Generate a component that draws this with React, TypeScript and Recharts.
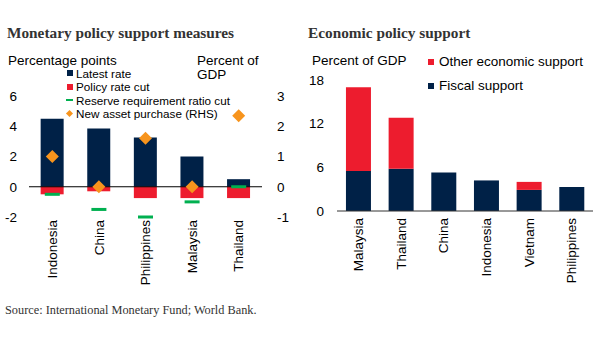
import React from "react";
import {
  ComposedChart,
  BarChart,
  Bar,
  Scatter,
  XAxis,
  YAxis,
  ReferenceLine,
} from "recharts";

// Monetary policy (left panel)
const monetaryCountries = ["Indonesia", "China", "Philippines", "Malaysia", "Thailand"];
const latestRate = [4.5, 3.85, 3.25, 2.0, 0.5];
const policyRateCut = [-0.5, -0.3, -0.75, -0.75, -0.75];
const rrrCut = [-0.5, -1.5, -2.0, -1.0, 0];
const assetPurchase = [1.0, 0, 1.6, 0, 2.35];
const leftTicks = [-2, 0, 2, 4, 6];
const rightTicks = [-1, 0, 1, 2, 3];

// Economic policy (right panel)
const economicCountries = ["Malaysia", "Thailand", "China", "Indonesia", "Vietnam", "Philippines"];
const fiscalSupport = [5.5, 5.8, 5.3, 4.2, 2.9, 3.3];
const otherSupport = [11.5, 7.0, 0, 0, 1.1, 0];
const econTicks = [0, 6, 12, 18];

const NAVY = "#002147";
const RED = "#ed1c2e";
const GREEN = "#00b050";
const ORANGE = "#f7941d";
const SANS = "'Liberation Sans', Arial, sans-serif";
const SERIF = "'Liberation Serif', 'Times New Roman', serif";

const monetaryData = monetaryCountries.map((name, i) => ({
  name,
  latest: latestRate[i],
  cut: policyRateCut[i],
  rrr: rrrCut[i],
  asset: assetPurchase[i],
}));

const economicData = economicCountries.map((name, i) => ({
  name,
  fiscal: fiscalSupport[i],
  other: otherSupport[i],
}));

function RotatedTick({ x, y, payload }: any) {
  return (
    <text
      x={x}
      y={y}
      transform={`rotate(-90, ${x}, ${y})`}
      textAnchor="end"
      dy="0.35em"
      fill="#000"
      fontSize={13.5}
      fontFamily={SANS}
    >
      {payload.value}
    </text>
  );
}

function Dash({ cx, cy }: any) {
  return <rect x={cx - 7.5} y={cy - 1.5} width={15} height={3} fill={GREEN} />;
}

function Diamond({ cx, cy }: any) {
  const r = 6.5;
  return (
    <polygon
      points={`${cx},${cy - r} ${cx + r},${cy} ${cx},${cy + r} ${cx - r},${cy}`}
      fill={ORANGE}
    />
  );
}

const abs = (left: number, top: number, extra: React.CSSProperties = {}): React.CSSProperties => ({
  position: "absolute",
  left,
  top,
  whiteSpace: "nowrap",
  ...extra,
});

const tickStyle = { fontSize: 13.5, fill: "#000", fontFamily: SANS };

export default function App() {
  const label: React.CSSProperties = { fontFamily: SANS, fontSize: 13.5, lineHeight: "14px", color: "#000" };
  const legend: React.CSSProperties = { fontFamily: SANS, fontSize: 11.7, lineHeight: "13px", color: "#000" };
  const title: React.CSSProperties = { fontFamily: SERIF, fontSize: 15.3, fontWeight: "bold", lineHeight: "16px", color: "#333" };

  return (
    <div style={{ position: "absolute", left: 0, top: 0, width: 600, height: 337, background: "#fff", overflow: "hidden" }}>
      {/* Left panel */}
      <div style={abs(7, 25, title)}>Monetary policy support measures</div>
      <div style={abs(8, 54, label)}>Percentage points</div>
      <div style={abs(197, 54, label)}>Percent of</div>
      <div style={abs(197, 68, label)}>GDP</div>

      <div style={{ position: "absolute", left: 0, top: 0 }}>
        <ComposedChart
          width={300}
          height={337}
          data={monetaryData}
          stackOffset="sign"
          barCategoryGap="25%"
          margin={{ top: 96, right: 0, bottom: 0, left: 0 }}
        >
          <XAxis
            dataKey="name"
            xAxisId="x"
            height={120}
            axisLine={false}
            tickLine={false}
            tickSize={0}
            tickMargin={3}
            interval={0}
            tick={<RotatedTick />}
          />
          <YAxis
            yAxisId="left"
            orientation="left"
            width={29}
            domain={[-2, 6]}
            ticks={leftTicks}
            axisLine={false}
            tickLine={false}
            tickSize={0}
            tickMargin={12}
            tick={tickStyle}
          />
          <YAxis
            yAxisId="right"
            orientation="right"
            width={38}
            domain={[-1, 3]}
            ticks={rightTicks}
            axisLine={false}
            tickLine={false}
            tickSize={0}
            tickMargin={15}
            tick={{ ...tickStyle, textAnchor: "start" }}
          />
          <Bar dataKey="latest" xAxisId="x" yAxisId="left" stackId="s" fill={NAVY} isAnimationActive={false} />
          <Bar dataKey="cut" xAxisId="x" yAxisId="left" stackId="s" fill={RED} isAnimationActive={false} />
          <ReferenceLine y={0} xAxisId="x" yAxisId="left" stroke="#000" strokeWidth={1} />
          <Scatter dataKey="rrr" xAxisId="x" yAxisId="left" shape={<Dash />} isAnimationActive={false} />
          <Scatter dataKey="asset" xAxisId="x" yAxisId="right" shape={<Diamond />} isAnimationActive={false} />
        </ComposedChart>
      </div>

      {/* Left legend */}
      <div style={abs(67, 70, { width: 5.5, height: 5.5, background: NAVY })} />
      <div style={abs(76, 67, legend)}>Latest rate</div>
      <div style={abs(67, 84, { width: 5.5, height: 5.5, background: RED })} />
      <div style={abs(76, 80, legend)}>Policy rate cut</div>
      <div style={abs(66, 99, { width: 7, height: 2, background: GREEN })} />
      <div style={abs(76, 93.5, legend)}>Reserve requirement ratio cut</div>
      <div style={abs(67, 110.5, { width: 5, height: 5, background: ORANGE, transform: "rotate(45deg)" })} />
      <div style={abs(76, 107, legend)}>New asset purchase (RHS)</div>

      {/* Right panel */}
      <div style={abs(308, 25, title)}>Economic policy support</div>
      <div style={abs(312, 54, label)}>Percent of GDP</div>
      <div style={abs(428, 59, { width: 6, height: 6, background: RED })} />
      <div style={abs(439, 54.5, label)}>Other economic support</div>
      <div style={abs(428, 83, { width: 6, height: 6, background: NAVY })} />
      <div style={abs(439, 78.5, label)}>Fiscal support</div>

      <div style={{ position: "absolute", left: 300, top: 0 }}>
        <BarChart
          width={300}
          height={337}
          data={economicData}
          barCategoryGap="21%"
          margin={{ top: 80, right: 7, bottom: 0, left: 0 }}
        >
          <XAxis
            dataKey="name"
            height={126}
            axisLine={{ stroke: "#333", strokeWidth: 1 }}
            tickLine={false}
            tickSize={0}
            tickMargin={7}
            interval={0}
            tick={<RotatedTick />}
          />
          <YAxis
            width={37}
            domain={[0, 18]}
            ticks={econTicks}
            axisLine={false}
            tickLine={false}
            tickSize={0}
            tickMargin={13}
            tick={tickStyle}
          />
          <Bar dataKey="fiscal" stackId="e" fill={NAVY} isAnimationActive={false} />
          <Bar dataKey="other" stackId="e" fill={RED} isAnimationActive={false} />
        </BarChart>
      </div>

      <div style={abs(5, 303, { fontFamily: SERIF, fontSize: 12.3, lineHeight: "14px", color: "#333" })}>
        Source: International Monetary Fund; World Bank.
      </div>
    </div>
  );
}
